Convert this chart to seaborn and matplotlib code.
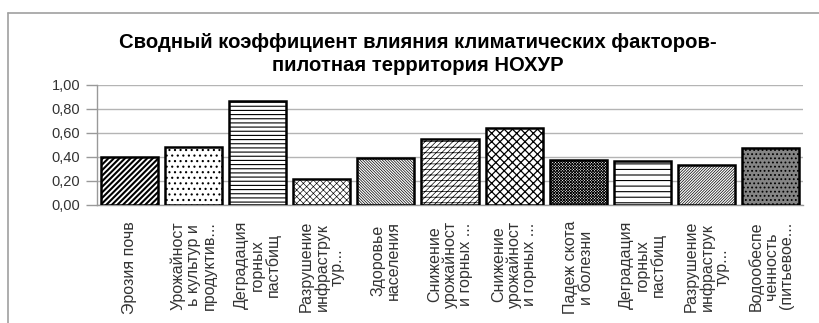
import matplotlib
matplotlib.use("Agg")
import matplotlib.pyplot as plt
import seaborn as sns
import pandas as pd
import numpy as np
from matplotlib.lines import Line2D

sns.set_theme(style="white")
plt.rcParams['font.family'] = ['Liberation Sans', 'DejaVu Sans']
plt.rcParams['hatch.linewidth'] = 0.8

title = "Сводный коэффициент влияния климатических факторов-\nпилотная территория НОХУР"
categories = [
    "Эрозия почв",
    "Урожайност\nь культур и\nпродуктив...",
    "Деградация\nгорных\nпастбищ",
    "Разрушение\nинфраструк\nтур...",
    "Здоровье\nнаселения",
    "Снижение\nурожайност\nи горных ...",
    "Снижение\nурожайност\nи горных ...",
    "Падеж скота\nи болезни",
    "Деградация\nгорных\nпастбищ",
    "Разрушение\nинфраструк\nтур...",
    "Водообеспе\nченность\n(питьевое...",
]
values = [0.40, 0.48, 0.87, 0.22, 0.39, 0.55, 0.64, 0.375, 0.37, 0.33, 0.475]
yticks = [0.0, 0.2, 0.4, 0.6, 0.8, 1.0]
ytick_labels = ["0,00", "0,20", "0,40", "0,60", "0,80", "1,00"]

hatches = ['/' * 6, '...', '-' * 4, 'x' * 5, '\\' * 12, '-' * 3 + '/' * 6,
           'x' * 4, 'x' * 12, '-' * 3, '/' * 12, '....']
hatch_lw = [1.5, 0.8, 0.8, 0.45, 0.5, 0.5, 0.9, 0.6, 0.8, 0.5, 0.8]
faces = ['white'] * 10 + ['#858585']

W, H = 819, 323
fig = plt.figure(figsize=(W / 100, H / 100), dpi=100)
ax = fig.add_axes([97 / W, 1 - 205 / H, (803 - 97) / W, 120 / H])

keys = [str(i) for i in range(len(values))]
df = pd.DataFrame({"key": keys, "value": values})
sns.barplot(data=df, x="key", y="value", order=keys, ax=ax, color="white",
            edgecolor="black", linewidth=1.8, width=0.89, errorbar=None,
            saturation=1)

for p, h, fc, hl in zip(ax.patches, hatches, faces, hatch_lw):
    p.set_hatch(h)
    p.set_facecolor(fc)
    p.set_zorder(3)
    try:
        p.set_hatch_linewidth(hl)
    except Exception:
        pass

ax.set_ylim(0, 1.0)
ax.set_xlim(-0.5, len(values) - 0.5)
ax.set_yticks(yticks)
ax.set_yticklabels(ytick_labels, fontsize=10.5, color='#333333')
ax.yaxis.grid(True, color='#b4b4b4', linewidth=1.0, zorder=0)
ax.set_axisbelow(True)
ax.set_xlabel("")
ax.set_ylabel("")

ax.set_xticks(range(len(values)))
ax.set_xticklabels([])
ax.tick_params(axis='x', which='major', length=0)
ax.set_xticks(np.arange(-0.5, len(values), 1.0), minor=True)
ax.tick_params(axis='x', which='minor', length=5, color='#999999', width=1, direction='out')
ax.tick_params(axis='y', which='major', length=8, color='#999999', width=1, direction='out', pad=4, left=True)

for s in ['top', 'right']:
    ax.spines[s].set_visible(False)
for s in ['left', 'bottom']:
    ax.spines[s].set_color('#999999')
    ax.spines[s].set_linewidth(1.0)

for i, lab in enumerate(categories):
    ax.annotate(lab, xy=(i, 0), xycoords=('data', 'axes fraction'),
                xytext=(0, -16), textcoords='offset pixels',
                rotation=90, ha='center', va='top', multialignment='center',
                fontsize=11.5, color='#333333', linespacing=1.04)

fig.text(418 / W, 1 - 54 / H, title, ha='center', va='center',
         fontsize=14.6, fontweight='bold', linespacing=1.3, color='black')

# chart area border (left and top visible)
fig.add_artist(Line2D([8 / W, 8 / W], [0, 1 - 13 / H], transform=fig.transFigure,
                      color='#a0a0a0', linewidth=1.2))
fig.add_artist(Line2D([8 / W, 1.0], [1 - 13 / H, 1 - 13 / H], transform=fig.transFigure,
                      color='#a0a0a0', linewidth=1.2))

fig.savefig("out.png", dpi=100)
